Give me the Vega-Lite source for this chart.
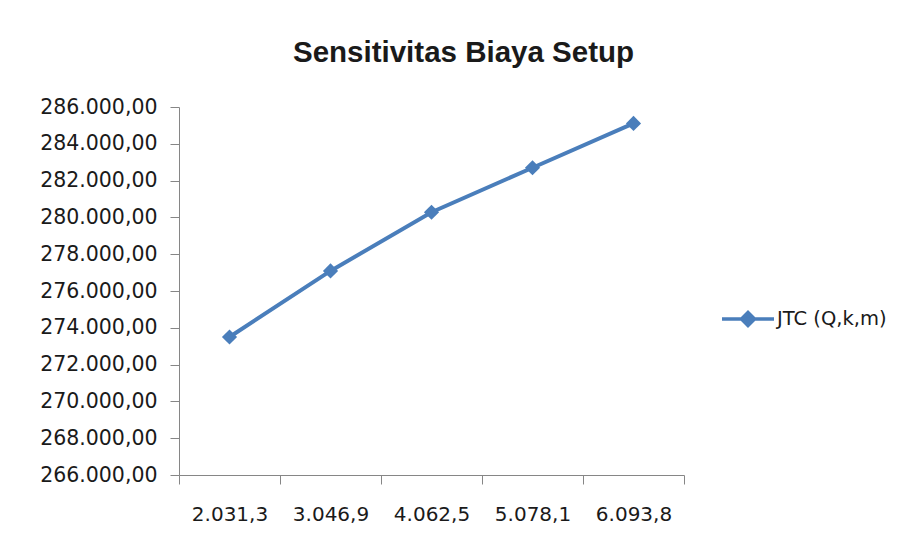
{
  "$schema": "https://vega.github.io/schema/vega-lite/v6.json",
  "width": 505,
  "height": 368,
  "autosize": {"type": "none"},
  "padding": {"left": 179, "top": 107, "right": 219, "bottom": 73},
  "background": "white",
  "config": {
    "locale": {"number": {"decimal": ",", "thousands": ".", "grouping": [3], "currency": ["", ""]}},
    "view": {"stroke": null},
    "axis": {"grid": false, "domainColor": "#868686", "tickColor": "#868686", "tickSize": 9, "labelFont": "DejaVu Sans", "labelFontSize": 20.5, "labelColor": "#1a1a1a", "domainWidth": 1, "tickWidth": 1}
  },
  "title": {"text": "Sensitivitas Biaya Setup", "font": "Liberation Sans", "fontSize": 29.5, "fontWeight": "bold", "color": "#1a1a1a", "anchor": "middle", "dx": 32, "offset": 29},
  "data": {
    "values": [
      {"Q": "2.031,3", "JTC": 273500, "series": "JTC (Q,k,m)"},
      {"Q": "3.046,9", "JTC": 277090, "series": "JTC (Q,k,m)"},
      {"Q": "4.062,5", "JTC": 280280, "series": "JTC (Q,k,m)"},
      {"Q": "5.078,1", "JTC": 282700, "series": "JTC (Q,k,m)"},
      {"Q": "6.093,8", "JTC": 285110, "series": "JTC (Q,k,m)"}
    ]
  },
  "encoding": {
    "x": {"field": "Q", "type": "ordinal", "sort": null, "title": null,
      "scale": {"type": "band", "paddingInner": 0, "paddingOuter": 0},
      "axis": {"labelAngle": 0, "tickBand": "extent", "labelPadding": 20, "labelFontSize": 20, "domain": true}},
    "y": {"field": "JTC", "type": "quantitative", "title": null,
      "scale": {"domain": [266000, 286000], "nice": false, "zero": false},
      "axis": {"values": [266000, 268000, 270000, 272000, 274000, 276000, 278000, 280000, 282000, 284000, 286000], "format": ",.2f", "labelPadding": 13}},
    "color": {"field": "series", "type": "nominal", "title": null,
      "scale": {"range": ["#4a7ebb"]},
      "legend": {"orient": "none", "legendX": 541, "legendY": 184, "symbolType": "M-1,0H1M0,-0.25L0.25,0L0,0.25L-0.25,0Z", "symbolSize": 2704, "symbolStrokeWidth": 3.5, "symbolFillColor": "#4a7ebb", "symbolStrokeColor": "#4a7ebb", "labelFont": "DejaVu Sans", "labelFontSize": 19.5, "labelColor": "#1a1a1a", "labelOffset": 1}}
  },
  "layer": [
    {"mark": {"type": "line", "strokeWidth": 4}},
    {"mark": {"type": "point", "shape": "diamond", "filled": true, "size": 230, "opacity": 1}}
  ]
}
